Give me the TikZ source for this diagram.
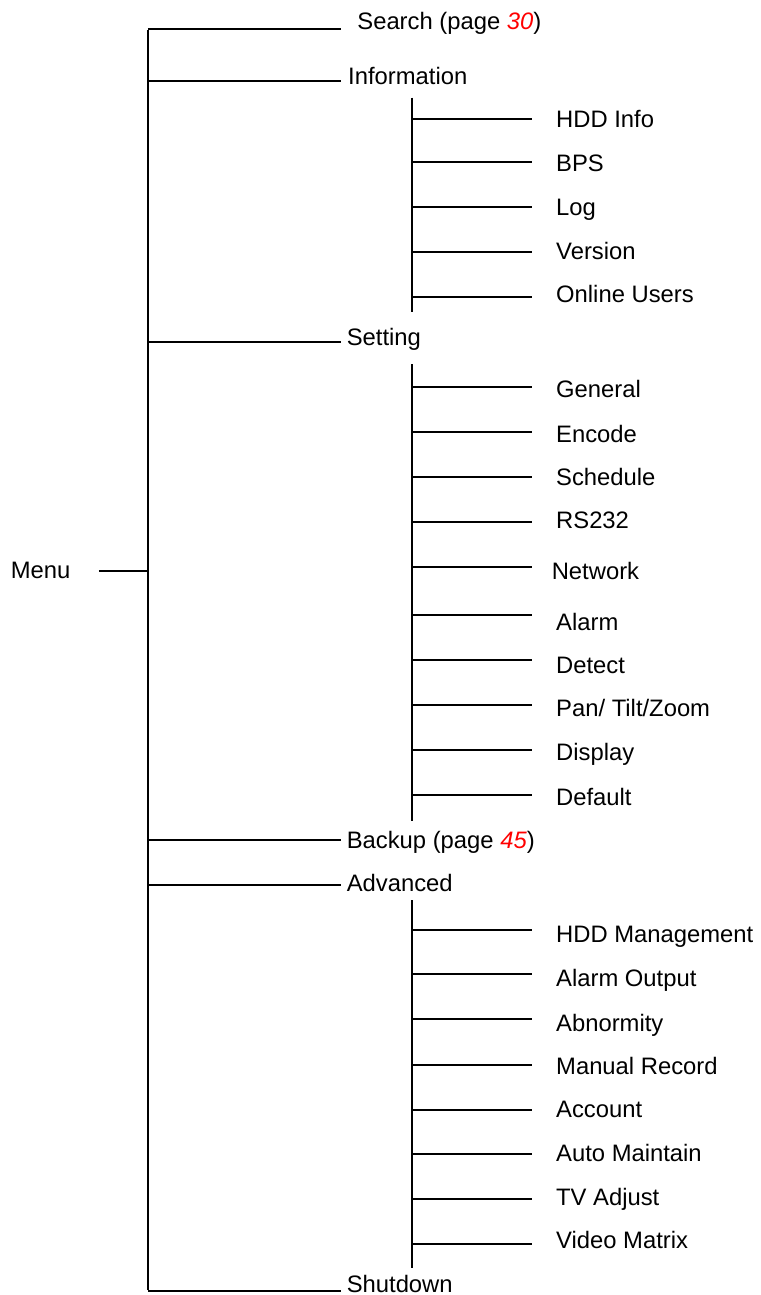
\documentclass[tikz,border=0pt]{standalone}
\usepackage{fontspec}
\setmainfont{Liberation Sans}
\usetikzlibrary{positioning}

\newcommand{\pagelink}[1]{\textcolor{red}{\textit{#1}}}

\tikzset{
  branch/.style={line width=2pt},
  item/.style={anchor=base west, inner sep=0pt, font=\fontsize{23.8}{28}\selectfont},
}

\begin{document}
\begin{tikzpicture}[x=1pt, y=-1pt]
  \useasboundingbox (0,0) rectangle (760,1295);
  % root
  \coordinate (root) at (147.8,570.7);
  \coordinate (menu-e) at (98.9,570.7);
  \node[item] (menu) at (10.7,578.7) {Menu};
  \draw[branch] (menu-e) -- (root);
  % first level
  \foreach \name/\ly/\tx/\ty/\txt in {
      search/28.7/357.2/30/{Search (page \pagelink{30})},
      info/80.7/348/85/Information,
      setting/342/346.6/345.7/Setting,
      backup/840/346.6/848.3/{Backup (page \pagelink{45})},
      advanced/884.7/346.6/891.7/Advanced,
      shutdown/1291/346.6/1292/Shutdown} {
    \coordinate (\name-s) at (147.8,\ly);
    \coordinate (\name-e) at (340.8,\ly);
    \node[item] (\name) at (\tx,\ty) {\txt};
    \draw[branch] (\name-s) -- (\name-e);
  }
  \draw[branch] ([yshift=-1pt]search-s) -- ([yshift=1pt]shutdown-s);
  % sub spines
  \coordinate (info-top) at (412,97.7);
  \coordinate (info-bot) at (412,312);
  \coordinate (setting-top) at (412,364);
  \coordinate (setting-bot) at (412,821);
  \coordinate (advanced-top) at (412,900);
  \coordinate (advanced-bot) at (412,1268);
  \draw[branch] (info-top) -- (info-bot);
  \draw[branch] (setting-top) -- (setting-bot);
  \draw[branch] (advanced-top) -- (advanced-bot);
  % second level
  \foreach \name/\ly/\tx/\ty/\txt in {
      hddinfo/119.3/556/127.7/HDD Info,
      bps/162.3/556/171.7/BPS,
      log/207.3/556/215/Log,
      version/252.3/556/259/Version,
      online/297.3/556/302.7/Online Users,
      general/387.3/556/397.7/General,
      encode/432.3/556/442/Encode,
      schedule/477/556/485.3/Schedule,
      rs/522/556/528.7/RS232,
      network/567/551.6/579/Network,
      alarm/615/556/630/Alarm,
      detect/660/556/673.3/Detect,
      ptz/705/556/716.7/{Pan/ Tilt/Zoom},
      display/749.7/556/760.3/Display,
      default/794.7/556/805/Default,
      hddmgmt/929.7/556/942.7/HDD Management,
      alarmout/974.3/556/986.7/Alarm Output,
      abnorm/1019.3/556/1031/Abnormity,
      manual/1064.7/556/1074/Manual Record,
      account/1109.7/556/1117.7/Account,
      automaint/1154.3/556/1161.7/Auto Maintain,
      tvadj/1198.7/556/1205/TV Adjust,
      matrix/1244.3/556/1248.3/Video Matrix} {
    \coordinate (\name-s) at (412,\ly);
    \coordinate (\name-e) at (532.2,\ly);
    \node[item] (\name) at (\tx,\ty) {\txt};
    \draw[branch] (\name-s) -- (\name-e);
  }
\end{tikzpicture}
\end{document}
